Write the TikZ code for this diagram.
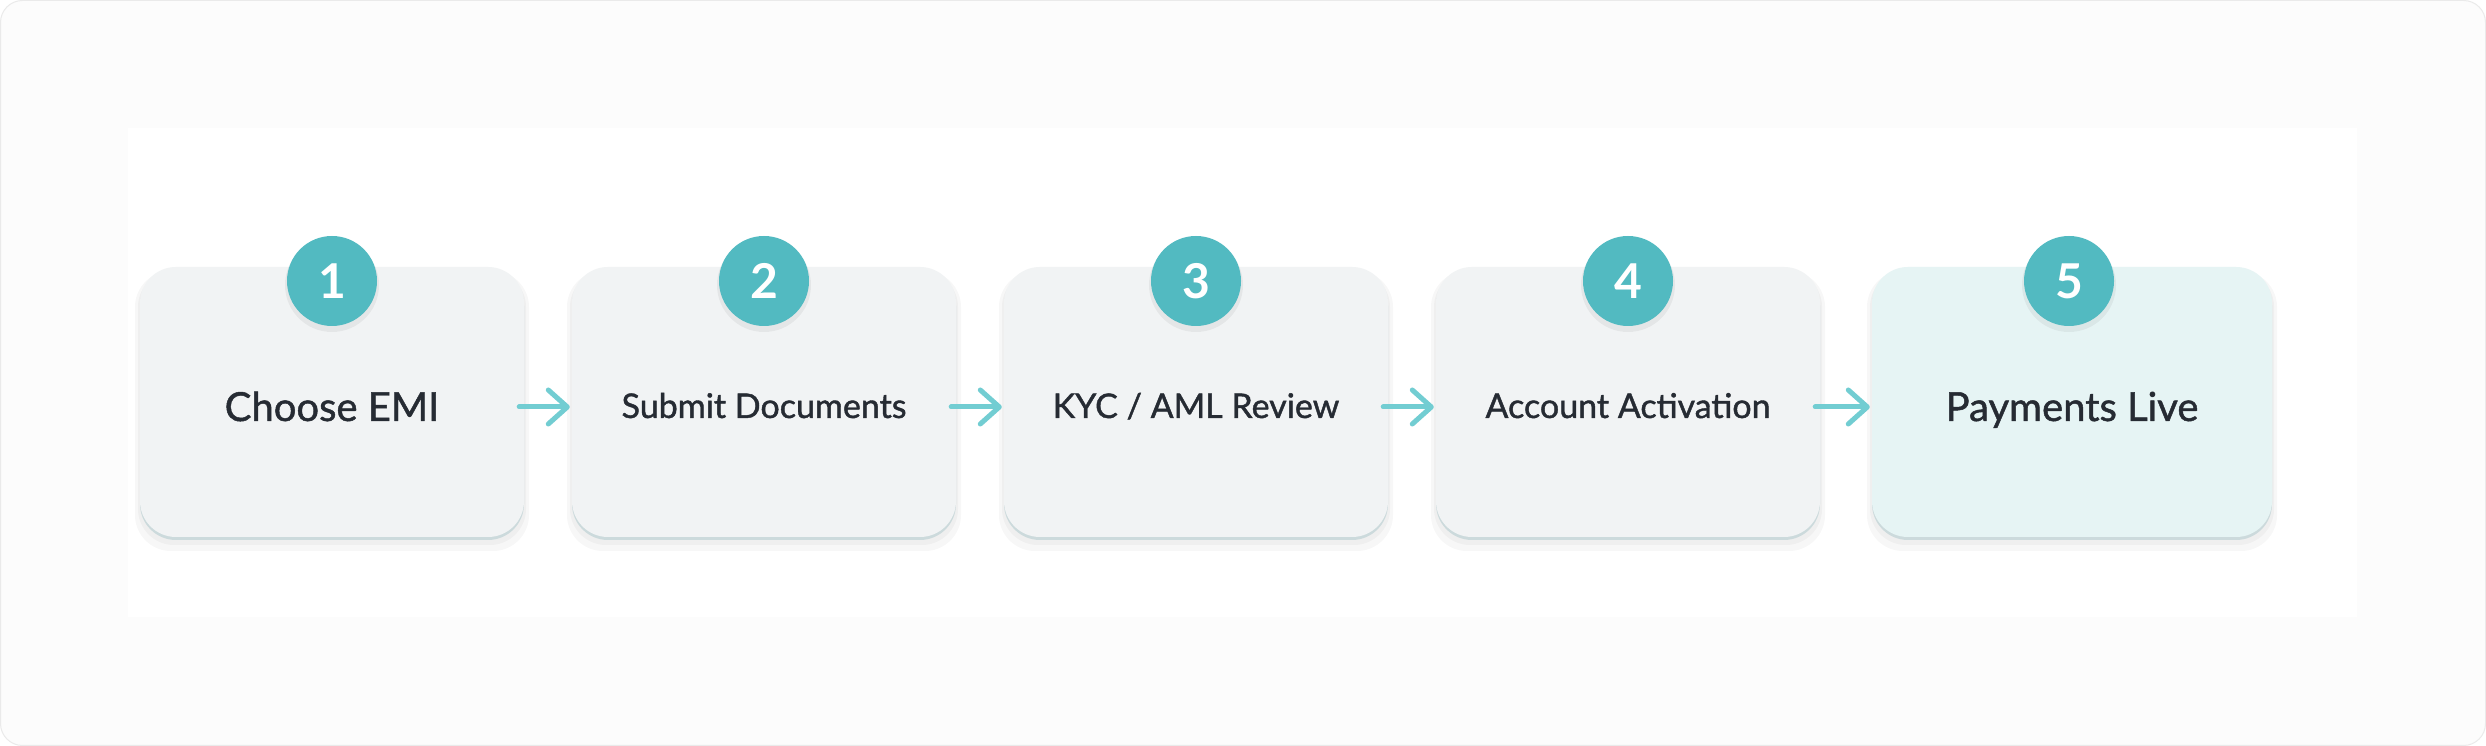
\documentclass[tikz,border=0pt]{standalone}
\usepackage{fontspec}
\setmainfont{Lato}
\newfontfamily\medfont[RawFeature={embolden=1.2}]{Lato}
\newfontfamily\numfont{Lato Bold}
\usetikzlibrary{arrows.meta,calc}
\definecolor{bgout}{HTML}{FCFCFC}
\definecolor{bgborder}{HTML}{EAEAEA}
\definecolor{boxfill}{HTML}{F1F3F4}
\definecolor{boxlast}{HTML}{E6F4F4}
\definecolor{boxrim}{HTML}{CCDADC}
\definecolor{teal}{HTML}{52BAC1}
\definecolor{arrowc}{HTML}{72CDD2}
\definecolor{txt}{HTML}{262B33}
\tikzset{
  stepbox/.style={rounded corners=36pt, minimum height=270pt, inner sep=0pt, draw=none},
  rimbox/.style={rounded corners=36pt, minimum height=270pt, inner sep=0pt, draw=none, fill=boxrim},
  shadowbox/.style={rounded corners=36pt, minimum height=270pt, inner sep=0pt, draw=none, fill=black, opacity=0.03},
  numdot/.style={circle, minimum size=90pt, inner sep=0pt, fill=teal, text=white, font=\numfont\fontsize{48}{48}\selectfont},
  bigtxt/.style={anchor=base, text=txt, font=\medfont\fontsize{40}{42}\selectfont, inner sep=0pt},
  smalltxt/.style={anchor=base, text=txt, font=\medfont\fontsize{34}{36}\selectfont, inner sep=0pt},
  flow/.style={draw=arrowc, line width=5pt, line cap=round, -{Straight Barb[length=19pt,width=34pt,line width=5pt,round]}}
}
\begin{document}
\begin{tikzpicture}[x=1pt,y=1pt]
\useasboundingbox (0,0) rectangle (2486,746);
\fill[bgout, draw=bgborder, line width=1pt, rounded corners=22pt] (0.5,0.5) rectangle (2485.5,745.5);
\fill[white] (128,129) rectangle (2357,618);
% shadows and rims
\foreach \cx/\w in {332/384,764/384,1196/384,1628/384,2072/400}{
  \node[shadowbox, minimum width=\w pt+10pt, minimum height=280pt] at (\cx,335) {};
  \node[shadowbox, minimum width=\w pt+4pt, minimum height=274pt] at (\cx,338) {};
  \node[rimbox, minimum width=\w pt] at (\cx,341) {};
}
\node[stepbox, fill=boxfill, minimum width=384pt] (b1) at (332,344) {};
\node[stepbox, fill=boxfill, minimum width=384pt] (b2) at (764,344) {};
\node[stepbox, fill=boxfill, minimum width=384pt] (b3) at (1196,344) {};
\node[stepbox, fill=boxfill, minimum width=384pt] (b4) at (1628,344) {};
\node[stepbox, fill=boxlast, minimum width=400pt] (b5) at (2072,344) {};
% number circles
\foreach \i/\cx in {1/332,2/764,3/1196,4/1628,5/2069}{
  \fill[black, opacity=0.05] (\cx,461) circle (47pt);
  \node[numdot] (n\i) at (\cx,465) {\i};
}
% labels
\node[bigtxt] (t1) at ([yshift=-19pt]b1.center) {Choose EMI};
\node[smalltxt] (t2) at ([yshift=-16pt]b2.center) {Submit Documents};
\node[smalltxt] (t3) at ([yshift=-16pt]b3.center) {KYC / AML Review};
\node[smalltxt] (t4) at ([yshift=-16pt]b4.center) {Account Activation};
\node[bigtxt] (t5) at ([yshift=-19pt]b5.center) {Payments Live};
% connectors
\foreach \a/\b in {b1/b2,b2/b3,b3/b4,b4/b5}{
  \draw[flow, shorten <=-5pt, shorten >=2pt] ([yshift=-5pt]\a.east) -- ([yshift=-5pt]\b.west);
}
\end{tikzpicture}
\end{document}
